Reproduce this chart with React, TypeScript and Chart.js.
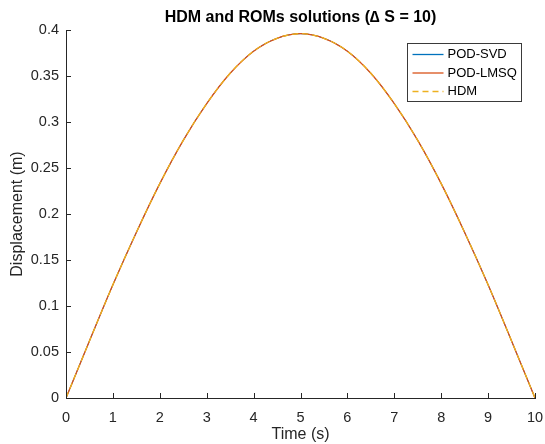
import React, { useEffect, useRef } from "react";
import { Chart, registerables } from "chart.js";

Chart.register(...registerables);

const timeValues = [0, 0.5, 1, 1.5, 2, 2.5, 3, 3.5, 4, 4.5, 5, 5.5, 6, 6.5, 7, 7.5, 8, 8.5, 9, 9.5, 10];
const podSvdValues = [0, 0.062, 0.123, 0.18, 0.233, 0.28, 0.32, 0.353, 0.377, 0.391, 0.396, 0.391, 0.377, 0.353, 0.32, 0.28, 0.233, 0.18, 0.123, 0.062, 0];
const podLmsqValues = [0, 0.062, 0.123, 0.18, 0.233, 0.28, 0.32, 0.353, 0.377, 0.391, 0.396, 0.391, 0.377, 0.353, 0.32, 0.28, 0.233, 0.18, 0.123, 0.062, 0];
const hdmValues = [0, 0.062, 0.123, 0.18, 0.233, 0.28, 0.32, 0.353, 0.377, 0.391, 0.396, 0.391, 0.377, 0.353, 0.32, 0.28, 0.233, 0.18, 0.123, 0.062, 0];

const seriesLabels = ["POD-SVD", "POD-LMSQ", "HDM"];
const seriesColors = ["#0072BD", "#D95319", "#EDB120"];
const seriesWidths = [1, 1.3, 1.3];
const seriesValues = [podSvdValues, podLmsqValues, hdmValues];

const xTickValues = [0, 1, 2, 3, 4, 5, 6, 7, 8, 9, 10];
const xTickLabels = ["0", "1", "2", "3", "4", "5", "6", "7", "8", "9", "10"];
const yTickValues = [0, 0.05, 0.1, 0.15, 0.2, 0.25, 0.3, 0.35, 0.4];
const yTickLabels = ["0", "0.05", "0.1", "0.15", "0.2", "0.25", "0.3", "0.35", "0.4"];

const titleText = "HDM and ROMs solutions (\u2206 S = 10)";
const xTitle = "Time (s)";
const yTitle = "Displacement (m)";

const FONT = "'Liberation Sans', Arial, Helvetica, sans-serif";
const AXIS = "#262626";

const decorPlugin = {
  id: "decor",
  afterDraw(chart: any) {
    const { ctx, chartArea, scales } = chart;
    const xs = scales.x;
    const ys = scales.y;
    ctx.save();
    // inward ticks
    ctx.strokeStyle = AXIS;
    ctx.lineWidth = 1;
    ctx.beginPath();
    xTickValues.forEach((v) => {
      const px = Math.round(xs.getPixelForValue(v)) + 0.5;
      ctx.moveTo(px, chartArea.bottom);
      ctx.lineTo(px, chartArea.bottom - 5);
    });
    yTickValues.forEach((v) => {
      const py = Math.round(ys.getPixelForValue(v)) + 0.5;
      ctx.moveTo(chartArea.left, py);
      ctx.lineTo(chartArea.left + 5, py);
    });
    ctx.stroke();

    // title
    const cx = (chartArea.left + chartArea.right) / 2;
    ctx.fillStyle = "#000000";
    ctx.font = `bold 16px ${FONT}`;
    ctx.textAlign = "center";
    ctx.textBaseline = "middle";
    ctx.fillText(titleText, cx, 17.5);

    // axis titles
    ctx.fillStyle = AXIS;
    ctx.font = `16px ${FONT}`;
    ctx.fillText(xTitle, cx, 435);
    ctx.save();
    ctx.translate(18, (chartArea.top + chartArea.bottom) / 2);
    ctx.rotate(-Math.PI / 2);
    ctx.fillText(yTitle, 0, 0);
    ctx.restore();

    // legend
    const bw = 114;
    const bh = 58;
    const bx = Math.round(chartArea.right - 14 - bw) + 0.5;
    const by = Math.round(chartArea.top + 13) + 0.5;
    ctx.fillStyle = "#ffffff";
    ctx.fillRect(bx, by, bw, bh);
    ctx.strokeStyle = "#3a3a3a";
    ctx.lineWidth = 1;
    ctx.strokeRect(bx, by, bw, bh);
    ctx.font = `13px ${FONT}`;
    ctx.textAlign = "left";
    ctx.textBaseline = "middle";
    chart.data.datasets.forEach((ds: any, i: number) => {
      const ry = by + 11 + i * 18.5;
      ctx.strokeStyle = ds.borderColor;
      ctx.lineWidth = 1.3;
      ctx.setLineDash(ds.borderDash || []);
      ctx.beginPath();
      ctx.moveTo(bx + 5, ry);
      ctx.lineTo(bx + 36, ry);
      ctx.stroke();
      ctx.setLineDash([]);
      ctx.fillStyle = "#000000";
      ctx.fillText(ds.label, bx + 40, ry);
    });
    ctx.restore();
  },
};

export default function App() {
  const ref = useRef<HTMLCanvasElement>(null);
  useEffect(() => {
    document.body.style.margin = "0";
    const canvas = ref.current!;
    const chart = new Chart(canvas, {
      type: "line",
      data: {
        datasets: seriesLabels.map((label, i) => ({
          label,
          data: timeValues.map((t, j) => ({ x: t, y: seriesValues[i][j] })),
          borderColor: seriesColors[i],
          backgroundColor: seriesColors[i],
          borderWidth: seriesWidths[i],
          borderDash: i === 2 ? [6, 4] : [],
          pointRadius: 0,
          cubicInterpolationMode: "monotone" as const,
          fill: false,
          order: 3 - i,
        })),
      },
      options: {
        responsive: false,
        animation: false,
        layout: { padding: { top: 30, right: 10, left: 0, bottom: 0 } },
        plugins: {
          legend: { display: false },
          title: { display: false },
          tooltip: { enabled: false },
        },
        scales: {
          x: {
            type: "linear",
            min: 0,
            max: 10,
            afterBuildTicks: (s: any) => {
              s.ticks = xTickValues.map((v) => ({ value: v }));
            },
            afterFit: (s: any) => {
              s.height = 46;
              s.paddingLeft = 0;
              s.paddingRight = 0;
            },
            ticks: {
              callback: (_v: any, idx: number) => xTickLabels[idx],
              color: AXIS,
              font: { family: FONT, size: 14.5 },
              padding: 11,
              maxRotation: 0,
              autoSkip: false,
            },
            grid: { display: true, drawOnChartArea: false, drawTicks: false },
            border: { display: true, color: AXIS, width: 1 },
          },
          y: {
            type: "linear",
            min: 0,
            max: 0.4,
            afterBuildTicks: (s: any) => {
              s.ticks = yTickValues.map((v) => ({ value: v }));
            },
            afterFit: (s: any) => {
              s.width = 66;
              s.paddingTop = 0;
              s.paddingBottom = 0;
            },
            ticks: {
              callback: (_v: any, idx: number) => yTickLabels[idx],
              color: AXIS,
              font: { family: FONT, size: 14.5 },
              padding: 7,
              autoSkip: false,
            },
            grid: { display: true, drawOnChartArea: false, drawTicks: false },
            border: { display: true, color: AXIS, width: 1 },
          },
        },
      },
      plugins: [decorPlugin],
    } as any);
    return () => chart.destroy();
  }, []);
  return <canvas ref={ref} width={545} height={444} style={{ display: "block" }} />;
}
